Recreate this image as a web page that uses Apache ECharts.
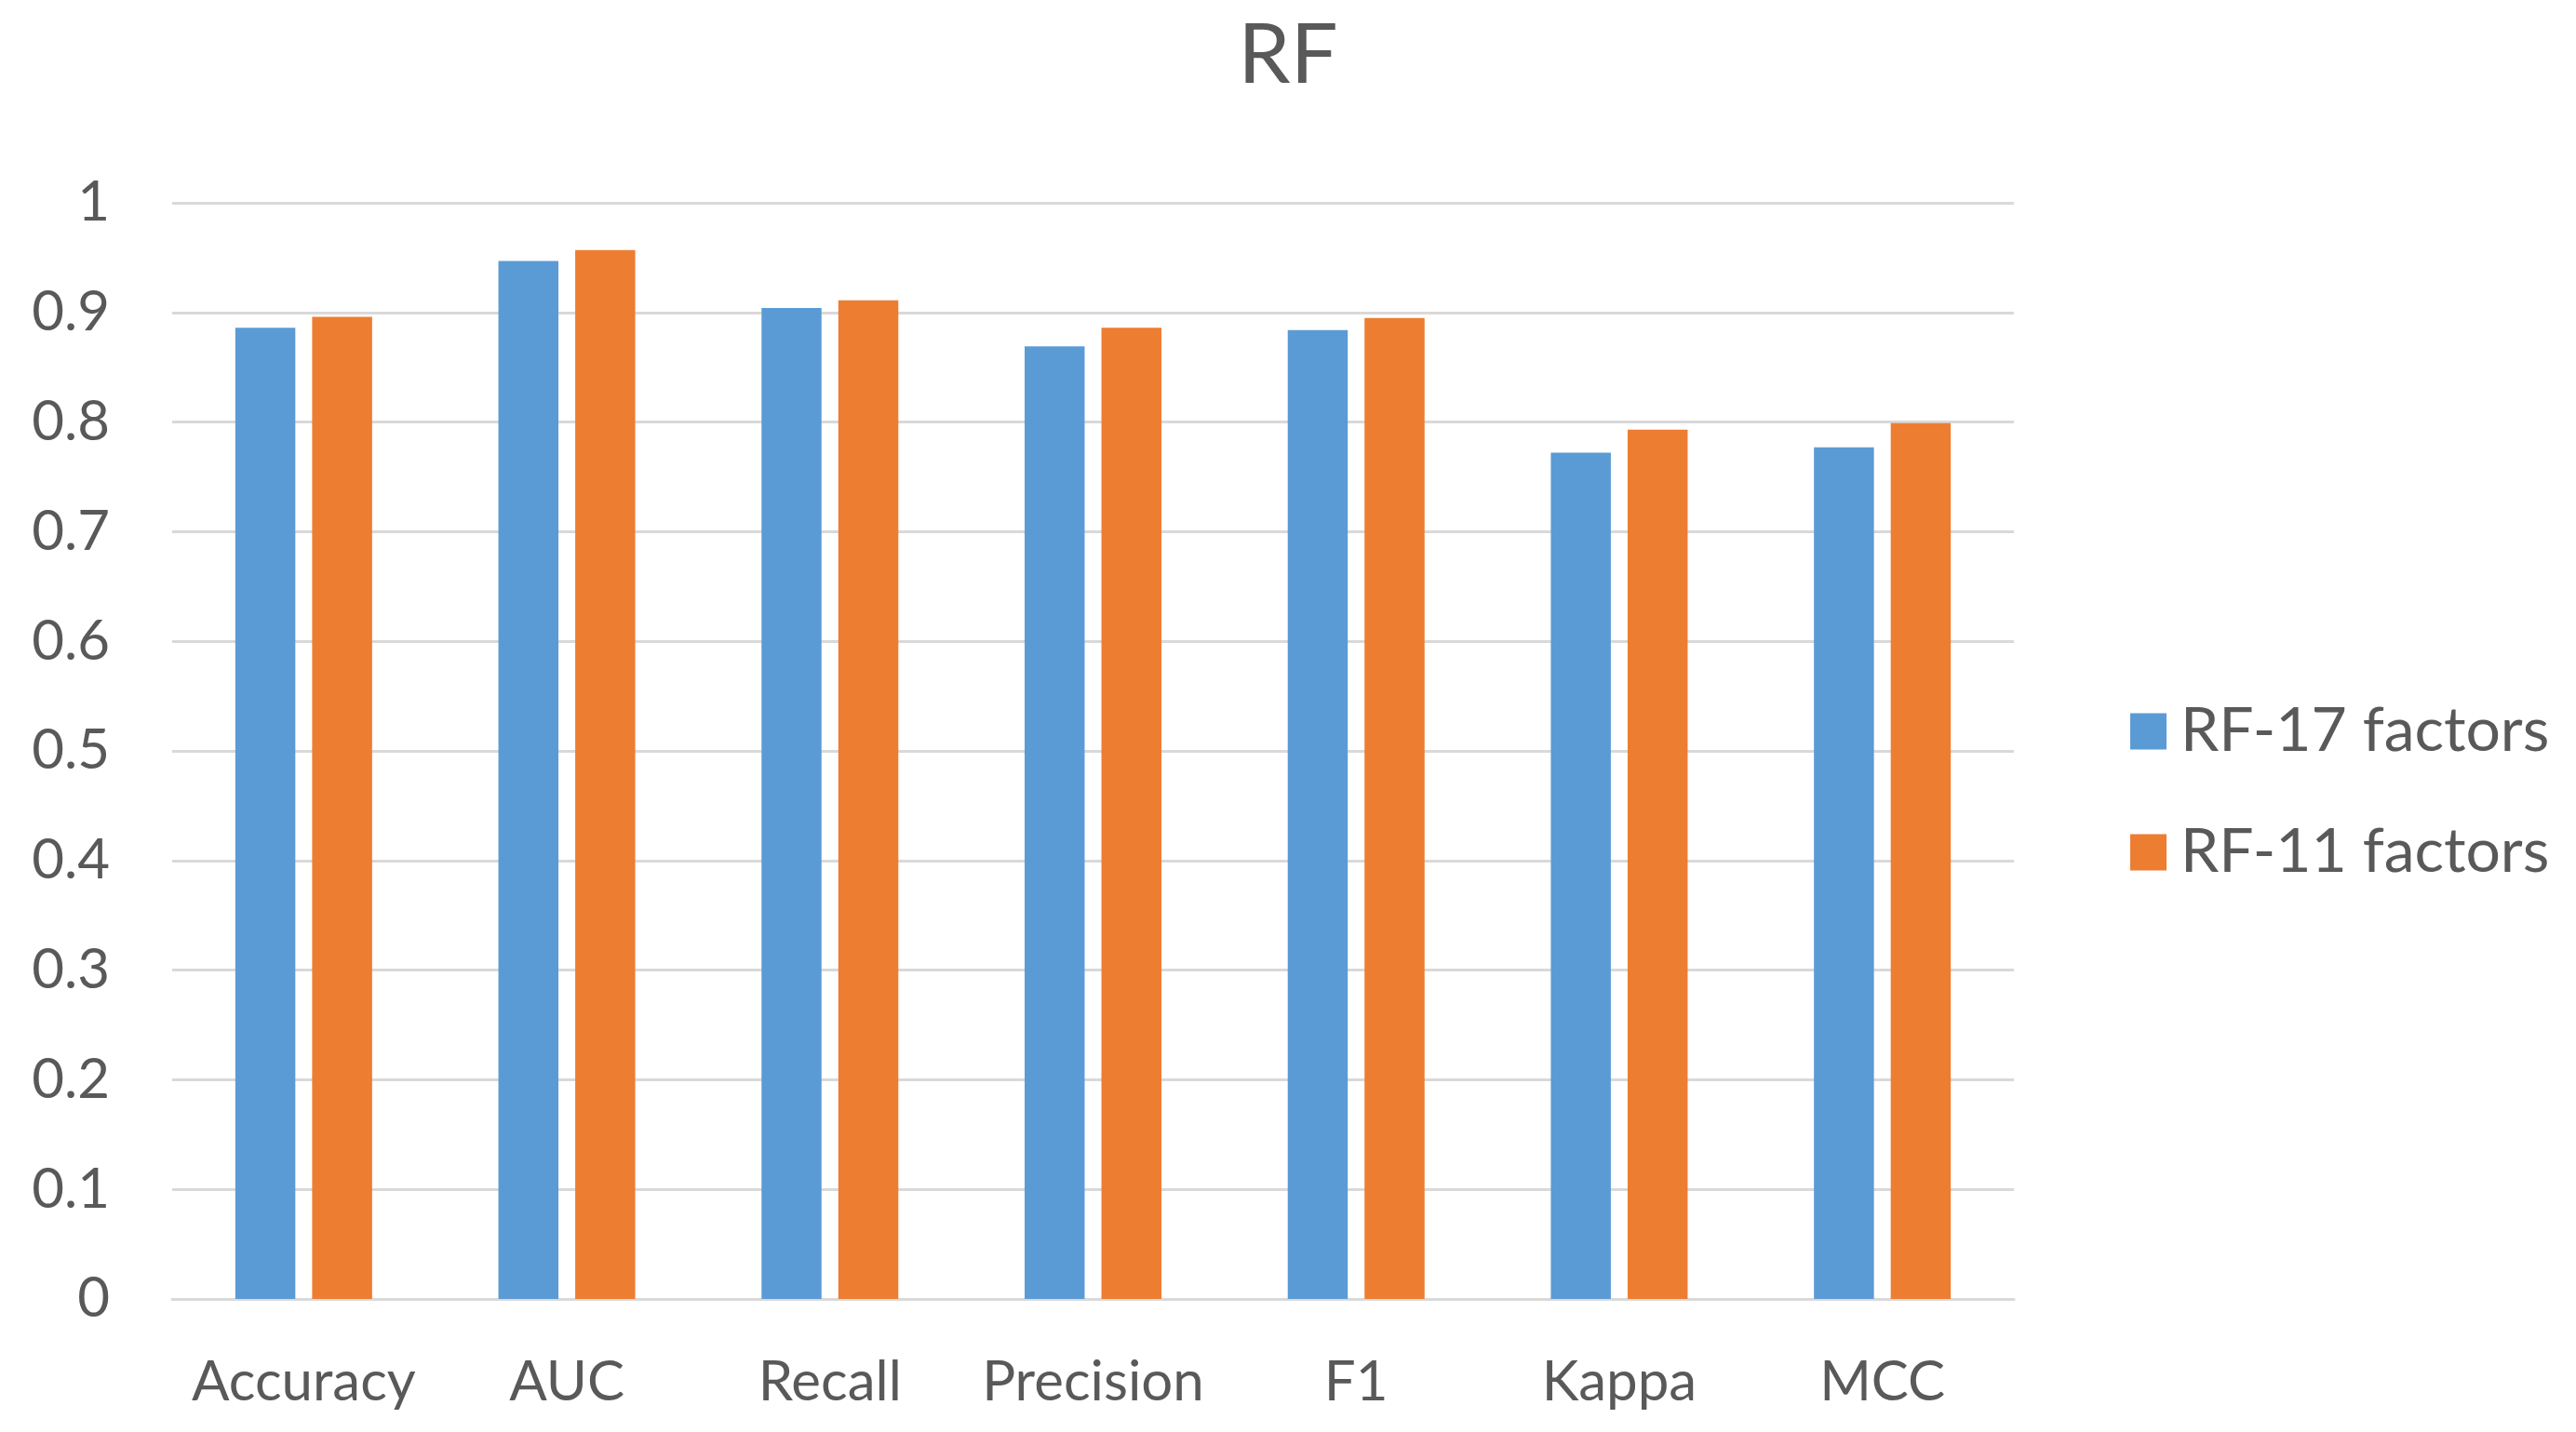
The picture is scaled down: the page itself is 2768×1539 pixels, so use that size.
<!DOCTYPE html>
<html>
<head>
<meta charset="utf-8">
<script src="https://cdn.jsdelivr.net/npm/echarts@6/dist/echarts.min.js"></script>
<style>html,body{margin:0;padding:0;background:#fff;}#chart{width:2768px;height:1539px;}</style>
</head>
<body>
<div id="chart"></div>
<script>
const categories = ['Accuracy', 'AUC', 'Recall', 'Precision', 'F1', 'Kappa', 'MCC'];
const rf17 = [0.886, 0.947, 0.904, 0.869, 0.884, 0.772, 0.777];
const rf11 = [0.896, 0.957, 0.911, 0.886, 0.895, 0.793, 0.799];
const seriesNames = ['RF-17 factors', 'RF-11 factors'];
const titleText = 'RF';

const FONT = 'Lato';
const TEXT = '#595959';
const chart = echarts.init(document.getElementById('chart'));
chart.setOption({
  backgroundColor: '#ffffff',
  animation: false,
  title: {
    text: titleText, left: 'center', top: 10,
    textStyle: { fontFamily: FONT, fontSize: 90, fontWeight: 'normal', color: TEXT }
  },
  legend: {
    orient: 'vertical', left: 2284, top: 748,
    itemWidth: 39, itemHeight: 39, itemGap: 64,
    icon: 'rect',
    textStyle: { fontFamily: FONT, fontSize: 66, color: TEXT, padding: [0, 0, 0, 10] },
    data: seriesNames
  },
  grid: { left: 185, right: 604, top: 218, bottom: 143, containLabel: false },
  xAxis: {
    type: 'category', data: categories,
    axisLine: { lineStyle: { color: '#d9d9d9', width: 3 } },
    axisTick: { show: false },
    axisLabel: { fontFamily: FONT, fontSize: 60, color: TEXT, margin: 60, interval: 0 }
  },
  yAxis: {
    type: 'value', min: 0, max: 1, interval: 0.1,
    axisLine: { show: false }, axisTick: { show: false },
    splitLine: { lineStyle: { color: '#d9d9d9', width: 3 } },
    axisLabel: { fontFamily: FONT, fontSize: 60, color: TEXT, margin: 67,
      formatter: v => String(Math.round(v * 10) / 10) }
  },
  series: [
    { name: seriesNames[0], type: 'bar', data: rf17, itemStyle: { color: '#5B9BD5' },
      barGap: '28%', barCategoryGap: '48%' },
    { name: seriesNames[1], type: 'bar', data: rf11, itemStyle: { color: '#ED7D31' },
      barGap: '28%', barCategoryGap: '48%' }
  ]
});
</script>
</body>
</html>
